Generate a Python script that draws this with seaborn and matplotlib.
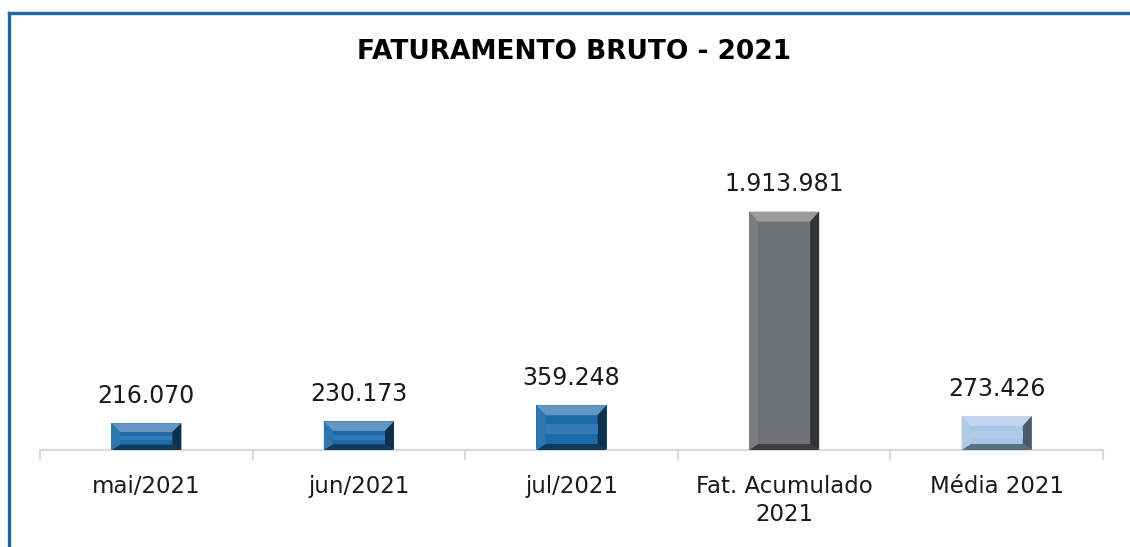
import matplotlib
matplotlib.use("Agg")
import matplotlib.pyplot as plt
import seaborn as sns
import numpy as np
from matplotlib.patches import Polygon
from matplotlib.lines import Line2D
from matplotlib.colors import to_rgb

categories = ["mai/2021", "jun/2021", "jul/2021", "Fat. Acumulado\n2021", "Média 2021"]
values = [216070, 230173, 359248, 1913981, 273426]
bar_colors = ["#1D6AA8", "#1D6AA8", "#1D6AA8", "#707175", "#A8C6E6"]
title = "FATURAMENTO BRUTO - 2021"

sns.set_theme(style="white")
plt.rcParams["font.family"] = ["DejaVu Sans"]

fig = plt.figure(figsize=(11.3, 5.47), dpi=100)
ax = fig.add_axes([40 / 1130, 1 - 450 / 547, (1103 - 40) / 1130, 350 / 547])

sns.barplot(x=categories, y=values, hue=categories, palette=bar_colors,
            width=0.33, legend=False, ax=ax, saturation=1, linewidth=0)

ax.set_ylim(0, 2.81e6)
ax.set_xlim(-0.5, len(categories) - 0.5)
ax.set_xlabel("")
ax.set_ylabel("")
ax.set_yticks([])
for s in ["top", "right", "left"]:
    ax.spines[s].set_visible(False)
ax.spines["bottom"].set_color("#D9D9D9")
ax.spines["bottom"].set_linewidth(1.5)

ax.set_xticks(range(len(categories)))
ax.set_xticklabels(categories, fontsize=16.5, color="#1A1A1A", linespacing=1.3)
ax.tick_params(axis="x", which="major", length=0, pad=18)
ax.set_xticks(np.arange(-0.5, len(categories), 1.0), minor=True)
ax.tick_params(axis="x", which="minor", length=7, width=1.5, color="#D9D9D9", bottom=True)

labels = [f"{v:,.0f}".replace(",", ".") for v in values]

bars_sorted = sorted(ax.patches, key=lambda p: p.get_x())
for bar, lab in zip(bars_sorted, labels):
    ax.annotate(lab, (bar.get_x() + bar.get_width() / 2, bar.get_height()),
                xytext=(0, 11), textcoords="offset points", ha="center", va="bottom",
                fontsize=17, color="#1A1A1A")

# bevel effect derived from each bar's geometry
def shade(c, f):
    r, g, b = to_rgb(c)
    if f >= 0:
        return (r + (1 - r) * f, g + (1 - g) * f, b + (1 - b) * f)
    f = -f
    return (r * (1 - f), g * (1 - f), b * (1 - f))

fig.canvas.draw()
inv = ax.transData.inverted()
for bar, col in zip(bars_sorted, bar_colors):
    x0, y0 = ax.transData.transform((bar.get_x(), 0))
    x1, y1 = ax.transData.transform((bar.get_x() + bar.get_width(), bar.get_height()))
    h = y1 - y0
    bv = min(10.0, h / 3.0)
    bx = min(9.0, (x1 - x0) / 4)
    outer = [(x0, y0), (x1, y0), (x1, y1), (x0, y1)]
    inner = [(x0 + bx, y0 + bv * 0.6), (x1 - bx, y0 + bv * 0.6), (x1 - bx, y1 - bv), (x0 + bx, y1 - bv)]
    faces = [
        ([outer[3], outer[2], inner[2], inner[3]], shade(col, 0.30)),   # top
        ([outer[0], outer[1], inner[1], inner[0]], shade(col, -0.45)),  # bottom
        ([outer[0], outer[3], inner[3], inner[0]], shade(col, 0.08)),   # left
        ([outer[1], outer[2], inner[2], inner[1]], shade(col, -0.55)),  # right
    ]
    for pts, fc in faces:
        data_pts = inv.transform(np.array(pts))
        ax.add_patch(Polygon(data_pts, closed=True, facecolor=fc, edgecolor="none", zorder=3))
    if h < 80:
        hy0 = y0 + bv * 0.6 + (h - 1.6 * bv) * 0.35
        hy1 = y0 + bv * 0.6 + (h - 1.6 * bv) * 0.70
        stripe = [(x0 + bx, hy0), (x1 - bx, hy0), (x1 - bx, hy1), (x0 + bx, hy1)]
        ax.add_patch(Polygon(inv.transform(np.array(stripe)), closed=True,
                             facecolor=shade(col, 0.10), edgecolor="none", zorder=3))

# title
fig.text(574 / 1130, 1 - 52 / 547, title, ha="center", va="center",
         fontsize=19, fontweight="bold", color="#000000")

# frame (left and top edges)
fc = "#1F67A3"
fig.add_artist(Line2D([8.5 / 1130, 8.5 / 1130], [0, 1 - 12.5 / 547], transform=fig.transFigure,
                      color=fc, linewidth=2.4, solid_capstyle="projecting"))
fig.add_artist(Line2D([8.5 / 1130, 1], [1 - 12.5 / 547, 1 - 12.5 / 547], transform=fig.transFigure,
                      color=fc, linewidth=2.4, solid_capstyle="projecting"))

fig.savefig("out.png", dpi=100, facecolor="white")
